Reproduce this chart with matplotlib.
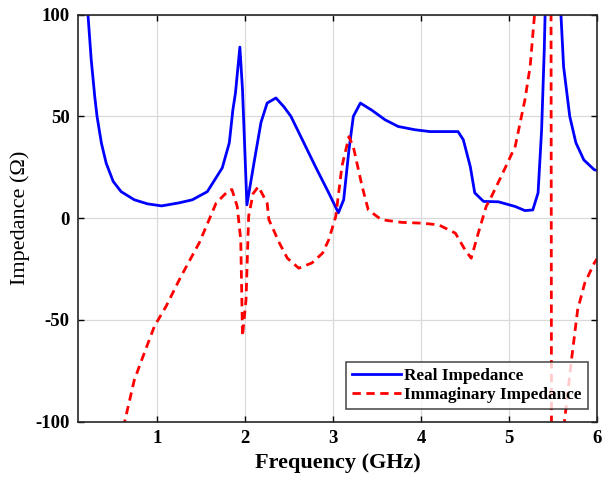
import matplotlib
matplotlib.use("Agg")
import matplotlib.pyplot as plt

plt.rcParams['font.family'] = ['Liberation Serif', 'DejaVu Serif']
plt.rcParams['axes.unicode_minus'] = False

real_f = [0.10, 0.213, 0.25, 0.29, 0.316, 0.366, 0.42, 0.50, 0.59, 0.74, 0.89, 1.05, 1.25, 1.40,
          1.57, 1.74, 1.82, 1.86, 1.89, 1.94, 1.97, 2.02, 2.10, 2.18, 2.25, 2.35, 2.44, 2.52,
          2.65, 2.80, 2.95, 3.06, 3.12, 3.18, 3.23, 3.31, 3.44, 3.59, 3.74, 3.93, 4.10, 4.25,
          4.42, 4.48, 4.56, 4.61, 4.71, 4.88, 5.07, 5.18, 5.27, 5.33, 5.37, 5.40, 5.41, 5.50,
          5.59, 5.62, 5.69, 5.76, 5.85, 5.97, 6.00]
real_z = [200, 100, 77.8, 59.8, 50, 36.8, 27, 18, 13, 9, 7, 6, 7.5, 9,
          13, 24.7, 37, 53, 61.5, 84, 63, 6.5, 27, 47, 56.5, 59, 54.7, 50,
          38.5, 25.2, 12.4, 2.6, 9, 33.5, 50, 56.5, 53, 48.3, 45, 43.4, 42.5, 42.5,
          42.5, 38.5, 25.2, 12.4, 8.2, 8, 5.7, 3.7, 4, 12.4, 43, 82, 100, 150,
          100, 74.5, 50, 37, 28.6, 23.7, 23.5]

imag_f = [0.50, 0.63, 0.74, 0.86, 0.97, 1.10, 1.27, 1.48, 1.59, 1.67, 1.82, 1.85, 1.91, 1.95,
          1.97, 2.01, 2.04, 2.09, 2.15, 2.25, 2.27, 2.39, 2.48, 2.61, 2.76, 2.88, 2.95, 3.03,
          3.10, 3.18, 3.23, 3.33, 3.40, 3.55, 3.78, 4.01, 4.20, 4.39, 4.50, 4.57, 4.65, 4.74,
          4.80, 4.91, 5.07, 5.18, 5.24, 5.29, 5.40, 5.47, 5.49, 5.55, 5.63, 5.71, 5.78, 5.86,
          5.97, 6.00]
imag_z = [-150, -100, -79.5, -65.5, -53, -43.4, -28.7, -12, -0.8, 7.4, 13.9, 14, 5.7, -10.7,
          -58, -40, 1, 12, 15.5, 7.4, -0.8, -12.3, -19.7, -24.6, -22, -17.2, -10.7, 0.8,
          25.4, 40, 35, 15.5, 4, -0.8, -2.1, -2.5, -3.3, -7.4, -15.6, -19.7, -7.4, 5.7,
          10.6, 20.4, 35.2, 58, 74.5, 100, 200, 400, -400, -200, -100, -69.6, -45, -32,
          -22, -20]

fig = plt.figure(figsize=(6.02, 4.82), dpi=100)
ax = fig.add_axes([0.1296, 0.1251, 0.8621, 0.8448])

ax.plot(real_f, real_z, color='#0000ff', lw=2.0, label='Real Impedance')
ax.plot(imag_f, imag_z, color='#ff0000', lw=2.0, ls=(0, (3, 2)), label='Immaginary Impedance')

ax.set_xlim(0.1, 6)
ax.set_ylim(-100, 100)
ax.set_xticks([1, 2, 3, 4, 5, 6])
ax.set_yticks([-100, -50, 0, 50, 100])
ax.grid(True, color='#d9d9d9', lw=0.9)
ax.set_axisbelow(True)
ax.tick_params(direction='in', top=True, right=True, length=4, width=1.0, labelsize=13.5, pad=6)
for lab in ax.get_xticklabels() + ax.get_yticklabels():
    lab.set_fontweight('bold')
for s in ax.spines.values():
    s.set_linewidth(1.2)
    s.set_color('#262626')

ax.set_xlabel('Frequency (GHz)', fontsize=16, fontweight='bold', labelpad=4)
ax.set_ylabel('Impedance (Ω)', fontsize=16, fontweight='normal', labelpad=4)

leg = ax.legend(loc='lower right', bbox_to_anchor=(0.982, 0.03), prop={'weight': 'bold', 'size': 12.4},
                frameon=True, fancybox=False, edgecolor='#262626', handlelength=2.8,
                borderpad=0.35, labelspacing=0.2, handletextpad=0.2, borderaxespad=0.0)
leg.get_frame().set_linewidth(1.2)

fig.savefig('out.png', dpi=100)
